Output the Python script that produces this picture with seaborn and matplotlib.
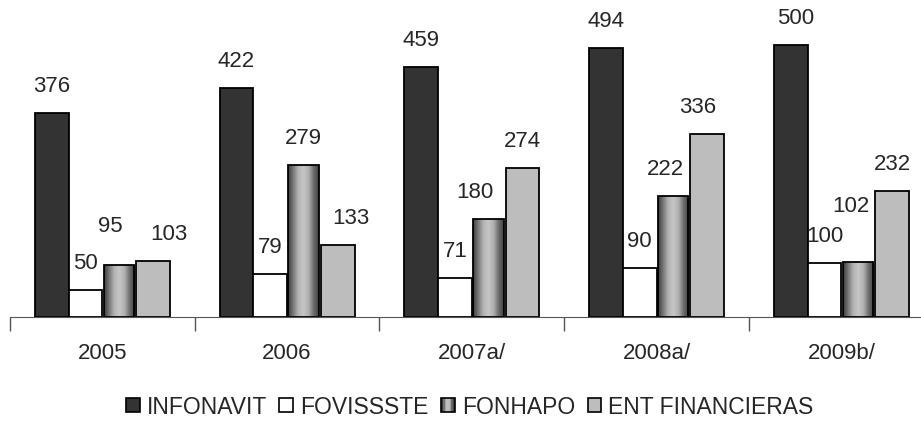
import matplotlib
matplotlib.use("Agg")
import matplotlib.pyplot as plt
from matplotlib.colors import LinearSegmentedColormap
from matplotlib.legend_handler import HandlerBase
from matplotlib.patches import Patch, Rectangle
import seaborn as sns
import numpy as np
import pandas as pd

# datos
years = ["2005", "2006", "2007a/", "2008a/", "2009b/"]
series = ["INFONAVIT", "FOVISSSTE", "FONHAPO", "ENT FINANCIERAS"]
infonavit = [376, 422, 459, 494, 500]
fovissste = [50, 79, 71, 90, 100]
fonhapo = [95, 279, 180, 222, 102]
ent_fin = [103, 133, 274, 336, 232]

colors = {"INFONAVIT": "#333333", "FOVISSSTE": "#ffffff",
          "FONHAPO": "#a0a0a0", "ENT FINANCIERAS": "#bdbdbd"}
# degradado tipo cilindro de FONHAPO
cyl = LinearSegmentedColormap.from_list(
    "cyl", ["#3c3c3c", "#7a7a7a", "#b4b4b4", "#c6c6c6", "#b0b0b0", "#6e6e6e", "#404040"])

# desplazamientos de etiquetas (px) como en el original
nudge = {("2005", "FONHAPO"): (-9, 12), ("2005", "ENT FINANCIERAS"): (16, 0),
         ("2006", "ENT FINANCIERAS"): (13, 0), ("2007a/", "FONHAPO"): (-14, 0),
         ("2008a/", "FONHAPO"): (-8, 0), ("2008a/", "ENT FINANCIERAS"): (-10, 0),
         ("2009b/", "FONHAPO"): (-7, 29), ("2009b/", "INFONAVIT"): (5, 0)}

df = pd.DataFrame({
    "year": years * 4,
    "serie": np.repeat(series, len(years)),
    "value": infonavit + fovissste + fonhapo + ent_fin,
})

sns.set_style("white")
plt.rcParams["font.family"] = ["Liberation Sans", "DejaVu Sans"]

fig = plt.figure(figsize=(9.21, 4.27), dpi=100)
ax = fig.add_axes([10 / 921, 109 / 427, 911 / 921, 318 / 427])

sns.barplot(data=df, x="year", y="value", hue="serie", order=years, hue_order=series,
            palette=colors, width=0.73, edgecolor="black", linewidth=1.3,
            saturation=1, legend=False, ax=ax)

px = 72 / 100
for serie, cont in zip(series, ax.containers):
    for year, bar in zip(years, cont):
        x, w, h = bar.get_x(), bar.get_width(), bar.get_height()
        if serie == "FONHAPO":
            bar.set_x(x + w * 0.04)
            bar.set_width(w * 0.9)
            x, w = bar.get_x(), bar.get_width()
            im = ax.imshow(np.linspace(0, 1, 64)[None, :], cmap=cyl, aspect="auto",
                           extent=[x, x + w, 0, h], zorder=bar.get_zorder() - 0.1)
            im.set_clip_path(bar)
            bar.set_facecolor("none")
        dx, dy = nudge.get((year, serie), (0, 0))
        ax.annotate(f"{h:.0f}", (x + w / 2, h), xytext=(dx * px, (17 + dy) * px),
                    textcoords="offset points", ha="center", va="bottom", fontsize=16)

ax.set_yticks([])
ax.set_xlabel("")
ax.set_ylabel("")
for s in ["top", "right", "left"]:
    ax.spines[s].set_visible(False)
ax.spines["bottom"].set_color("#555555")
ax.set_xticks(np.arange(-0.5, 4, 1), minor=True)
ax.tick_params(axis="x", which="minor", bottom=True, length=10, color="#555555", width=1)
ax.tick_params(axis="x", which="major", length=0, pad=18, labelsize=16)
ax.set_xlim(-0.5, 4.431)
ax.set_ylim(0, 585)


class GradientHandler(HandlerBase):
    def create_artists(self, legend, orig_handle, xdescent, ydescent, width, height, fontsize, trans):
        n = 8
        arts = []
        for i, c in enumerate(cyl(np.linspace(0, 1, n))):
            arts.append(Rectangle((-xdescent + i * width / n, -ydescent), width / n, height,
                                  facecolor=c, edgecolor="none", transform=trans))
        arts.append(Rectangle((-xdescent, -ydescent), width, height, facecolor="none",
                              edgecolor="black", linewidth=1.2, transform=trans))
        return arts


handles = [Patch(facecolor=colors[s], edgecolor="black", linewidth=1.2) for s in series]
fig.legend(handles, series, loc="lower center", bbox_to_anchor=(0.51, -0.03), ncol=4,
           frameon=False, fontsize=16.5, handlelength=0.6, handleheight=0.6,
           handletextpad=0.3, columnspacing=0.55,
           handler_map={handles[2]: GradientHandler()})

fig.savefig("out.png", dpi=100)
